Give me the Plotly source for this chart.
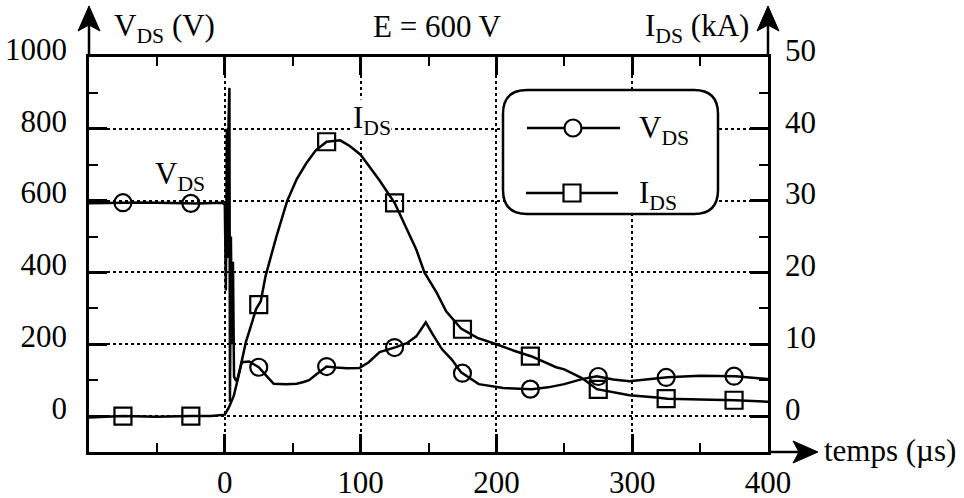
import numpy as np
import plotly.graph_objects as go

# V_DS trace (us, V)
t_v = [-100, -60, -20, -2, 0, 0.8, 1.5, 2.2, 2.8, 3.4, 3.8, 4.5, 5.2, 6, 6.8, 8, 9,
       12.5, 18, 25, 30, 36, 45, 53, 58, 62, 68, 75, 82, 90, 99, 106, 114, 126, 134,
       141, 148, 153, 160, 167, 174, 187, 205, 226, 238, 250, 263, 274, 286, 298,
       326, 350, 376, 400]
v_ds = [593, 595, 592, 594, 590, 350, 800, 440, 830, 914, 40, 500, 200, 430, 110, 100, 98,
        150, 152, 136, 115, 90, 89, 90, 95, 100, 118, 138, 135, 133, 134, 150, 178, 192, 203,
        222, 261, 228, 186, 158, 122, 89, 78, 75, 80, 89, 103, 111, 102, 97,
        108, 112, 111, 103]

# I_DS trace (us, kA)
t_i = [-100, -75, -50, -25, -10, 0, 3, 6.6, 10, 15.5, 20, 23, 26.5, 30, 38, 46, 53, 60,
       67, 75, 85, 92, 100, 113.6, 125, 141, 147, 156, 163, 174, 186, 200, 213, 226,
       244, 250, 263, 274, 298, 318, 326, 350, 376, 400]
i_ds = [-0.2, 0, -0.1, 0, 0, 0.2, 1.2, 2.8, 5.5, 10.3, 13, 14.9, 16, 19.5, 25, 30, 33, 35.2,
        37, 38.2, 38.4, 37.6, 36.4, 32.9, 29.7, 23.2, 20, 17.2, 14.6, 12.2, 10.9, 10, 9.1, 8.3,
        6.8, 6.5, 5.3, 3.75, 2.9, 2.6, 2.4, 2.3, 2.2, 2.0]

mark_t = [-75, -25, 25, 75, 125, 175, 225, 275, 325, 375]

x_ticks = [0, 100, 200, 300, 400]
x_minor = [-50, 50, 150, 250, 350]
yl_ticks = [0, 200, 400, 600, 800, 1000]
yl_minor = [100, 300, 500, 700, 900]
yr_ticks = [0, 10, 20, 30, 40, 50]
yr_minor = [5, 15, 25, 35, 45]

FONT = "Liberation Serif"
FS = 31
L, R, T, B = 89, 768, 57, 452


def px(X, Y):
    return (X - L) / (R - L), (B - Y) / (B - T)


fig = go.Figure()
fig.add_trace(go.Scatter(x=t_v, y=v_ds, mode="lines", yaxis="y",
                         line=dict(color="black", width=2.5, simplify=False)))
fig.add_trace(go.Scatter(x=t_i, y=i_ds, mode="lines", yaxis="y2",
                         line=dict(color="black", width=2.5, simplify=False)))
fig.add_trace(go.Scatter(x=mark_t, y=np.interp(mark_t, t_v, v_ds), mode="markers", yaxis="y",
                         marker=dict(symbol="circle-open", size=17, color="black",
                                     line=dict(width=2.2, color="black"))))
fig.add_trace(go.Scatter(x=mark_t, y=np.interp(mark_t, t_i, i_ds), mode="markers", yaxis="y2",
                         marker=dict(symbol="square-open", size=17, color="black",
                                     line=dict(width=2.2, color="black"))))

ax_common = dict(showline=True, linewidth=2.5, linecolor="black", ticks="inside", ticklen=18,
                 tickwidth=2.5, tickcolor="black", zeroline=False, automargin=False,
                 tickfont=dict(family=FONT, size=FS, color="black"))

fig.update_layout(
    width=964, height=498, margin=dict(l=L, r=964 - R, t=T, b=498 - B),
    plot_bgcolor="white", paper_bgcolor="white", showlegend=False,
    xaxis=dict(range=[-100, 400], tickmode="array", tickvals=x_ticks, mirror="ticks",
               showgrid=True, gridcolor="black", griddash="dot", gridwidth=2.2,
               minor=dict(tickmode="array", tickvals=x_minor, ticklen=9, tickwidth=2,
                          tickcolor="black", ticks="inside", showgrid=False),
               ticklabelstandoff=1, **ax_common),
    yaxis=dict(range=[-100, 1000], tickmode="array", tickvals=yl_ticks,
               showgrid=True, gridcolor="black", griddash="dot", gridwidth=2.2,
               minor=dict(tickmode="array", tickvals=yl_minor, ticklen=9, tickwidth=2,
                          tickcolor="black", ticks="inside", showgrid=False),
               ticklabelstandoff=13, ticklabelshift=-8, **ax_common),
    yaxis2=dict(range=[-5, 50], overlaying="y", side="right", tickmode="array",
                tickvals=yr_ticks, showgrid=False,
                minor=dict(tickmode="array", tickvals=yr_minor, ticklen=9, tickwidth=2,
                           tickcolor="black", ticks="inside", showgrid=False),
                ticklabelstandoff=8, ticklabelshift=-7, **ax_common),
)

shapes = []


def line(x0, y0, x1, y1, w=2.5):
    a, b = px(x0, y0)
    c, d = px(x1, y1)
    shapes.append(dict(type="line", xref="paper", yref="paper", x0=a, y0=b, x1=c, y1=d,
                       line=dict(color="black", width=w), layer="above"))


def poly(pts):
    p = "M " + " L ".join("%.5f,%.5f" % px(X, Y) for X, Y in pts) + " Z"
    shapes.append(dict(type="path", xref="paper", yref="paper", path=p, fillcolor="black",
                       line=dict(color="black", width=1), layer="above"))


# axis arrows
line(L, T, L, 22)
poly([(L, 6), (L - 11, 31), (L, 25), (L + 11, 31)])
line(R, T, R, 22)
poly([(R, 6), (R - 11, 31), (R, 25), (R + 11, 31)])
line(R, B, 800, B)
poly([(818, B), (793, B - 11), (799, B), (793, B + 11)])

# legend box (rounded)
bx0, bx1, by0, by1, rr = 503, 718, 90, 214, 24
pts = [("M", bx0 + rr, by0), ("L", bx1 - rr, by0), ("Q", bx1, by0, bx1, by0 + rr),
       ("L", bx1, by1 - rr), ("Q", bx1, by1, bx1 - rr, by1), ("L", bx0 + rr, by1),
       ("Q", bx0, by1, bx0, by1 - rr), ("L", bx0, by0 + rr), ("Q", bx0, by0, bx0 + rr, by0)]
path = ""
for seg in pts:
    cmd = seg[0]
    coords = seg[1:]
    s = []
    for k in range(0, len(coords), 2):
        a, b = px(coords[k], coords[k + 1])
        s.append("%.5f,%.5f" % (a, b))
    path += cmd + " " + " ".join(s) + " "
shapes.append(dict(type="path", xref="paper", yref="paper", path=path + "Z", fillcolor="white",
                   line=dict(color="black", width=2.5), layer="above"))

line(527, 128, 620, 128)
line(526, 193, 618, 193)
a0, b0 = px(564.5, 136.5)
a1, b1 = px(581.5, 119.5)
shapes.append(dict(type="circle", xref="paper", yref="paper", x0=a0, y0=b0, x1=a1, y1=b1,
                   fillcolor="white", line=dict(color="black", width=2.2), layer="above"))
a0, b0 = px(563.5, 201.5)
a1, b1 = px(580.5, 184.5)
shapes.append(dict(type="rect", xref="paper", yref="paper", x0=a0, y0=b0, x1=a1, y1=b1,
                   fillcolor="white", line=dict(color="black", width=2.2), layer="above"))
fig.update_layout(shapes=shapes)


def text(s, X, Y, xa="left", bg=None):
    a, b = px(X, Y)
    fig.add_annotation(text=s, xref="paper", yref="paper", x=a, y=b, xanchor=xa,
                       yanchor="middle", showarrow=False, borderpad=0,
                       bgcolor=bg if bg else "rgba(0,0,0,0)",
                       font=dict(family=FONT, size=FS, color="black"))


text("V<sub>DS</sub> (V)", 113, 28)
text("E = 600 V", 438, 26, xa="center")
text("I<sub>DS</sub> (kA)", 750, 28, xa="right")
text("temps (µs)", 823, 450)
text("V<sub>DS</sub>", 154, 176)
text("I<sub>DS</sub>", 352, 120, bg="white")
text("V<sub>DS</sub>", 638, 130)
text("I<sub>DS</sub>", 638, 195)

fig.write_html("out.html", config={"displayModeBar": False},
               post_script="document.body.style.margin='0px';")
